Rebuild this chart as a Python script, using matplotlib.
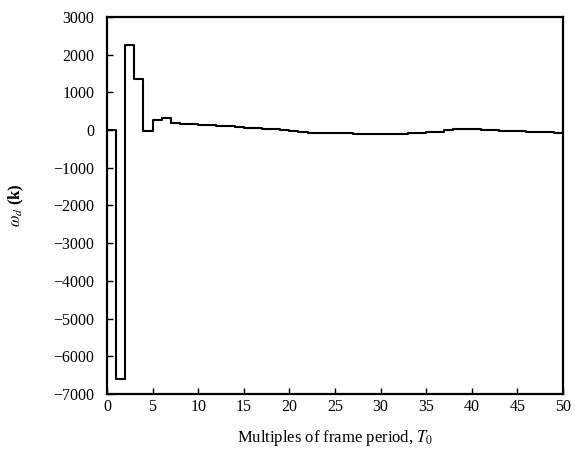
import numpy as np
import matplotlib
matplotlib.use("Agg")
import matplotlib.pyplot as plt

plt.rcParams['font.family'] = ['Liberation Serif', 'DejaVu Serif']
plt.rcParams['mathtext.fontset'] = 'stix'

k = list(range(0, 50))
omega_d = [0, -6600, 2250, 1350, -20, 260, 320, 190, 160, 150,
           140, 125, 110, 95, 80, 65, 50, 35, 20, 5,
           -20, -45, -75, -70, -70, -75, -85, -95, -100, -100,
           -100, -100, -95, -90, -80, -60, -40, -10, 15, 20,
           15, 5, -5, -15, -25, -35, -45, -50, -55, -70]

xticks = list(range(0, 51, 5))
yticks = list(range(-7000, 3001, 1000))

fig = plt.figure(figsize=(5.75, 4.57), dpi=100)
ax = fig.add_axes([0.186, 0.138, 0.793, 0.825])

xs = k + [50]
ys = omega_d + [omega_d[-1]]
ax.step(xs, ys, where='post', color='black', lw=1.5)

ax.set_xlim(0, 50)
ax.set_ylim(-7000, 3000)
ax.set_xticks(xticks)
ax.set_yticks(yticks)
ax.tick_params(direction='in', length=4, width=1, labelsize=11.5,
               top=False, right=False)
ax.tick_params(axis='y', pad=9)
ax.tick_params(axis='x', pad=4)
for s in ax.spines.values():
    s.set_linewidth(1.6)

ax.set_xlabel(r'Multiples of frame period, $T_0$', fontsize=12, labelpad=9)
ax.set_ylabel(r'$\omega_d$ (k)', fontsize=12, fontweight='bold', labelpad=20)

fig.savefig('out.png', dpi=100)
